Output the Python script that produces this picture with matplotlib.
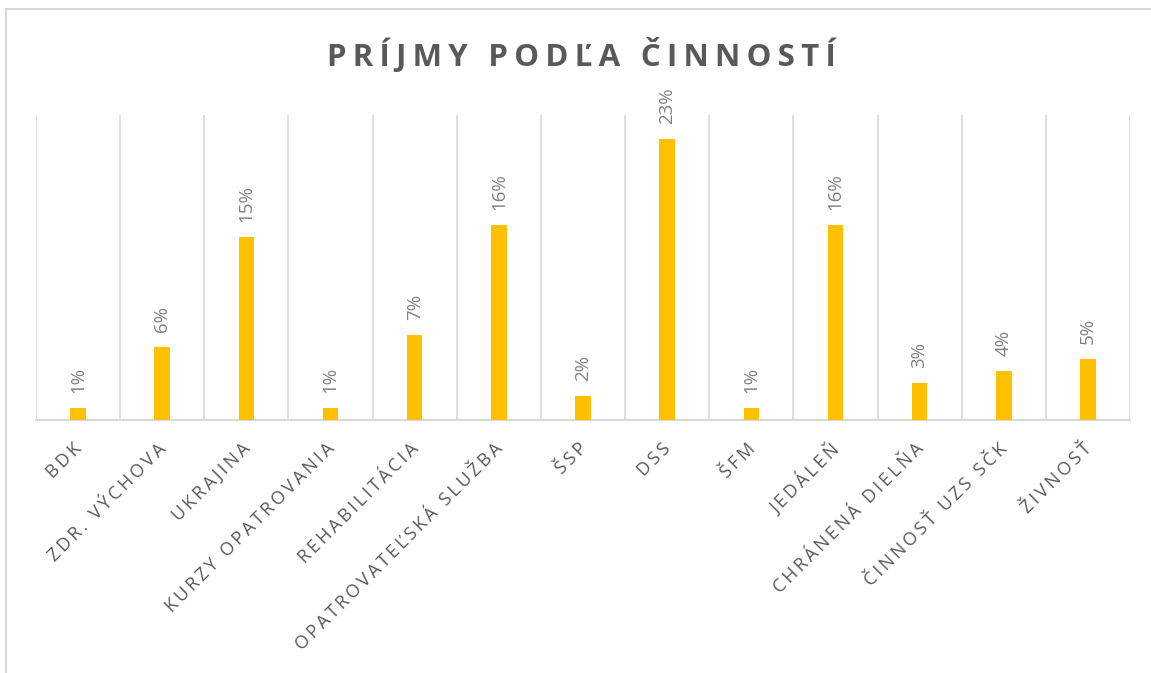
import matplotlib
matplotlib.use("Agg")
import matplotlib.pyplot as plt
import matplotlib.transforms as mtrans
from matplotlib.patches import Rectangle

categories = ["BDK", "ZDR. VÝCHOVA", "UKRAJINA", "KURZY OPATROVANIA", "REHABILITÁCIA",
              "OPATROVATEĽSKÁ SLUŽBA", "ŠSP", "DSS", "ŠFM", "JEDÁLEŇ",
              "CHRÁNENÁ DIELŇA", "ČINNOSŤ UZS SČK", "ŽIVNOSŤ"]
values = [1, 6, 15, 1, 7, 16, 2, 23, 1, 16, 3, 4, 5]
title = "PRÍJMY PODĽA ČINNOSTÍ"

fam = ["Open Sans", "DejaVu Sans"]
W, H = 1151, 673

def spaced(s, gap="\u2009"):
    # fake letter spacing like excel
    return gap.join(list(s))

fig = plt.figure(figsize=(W / 100, H / 100), dpi=100, facecolor="white")
# chart frame
fig.patches.append(Rectangle((6 / W, -0.1), 1.2, 1 - 9 / H + 0.1, transform=fig.transFigure,
                             fill=False, edgecolor="#d9d9d9", linewidth=1.5))

ax = fig.add_axes([36 / W, 1 - 420 / H, (1130 - 36) / W, (420 - 115) / H])
x = list(range(len(categories)))
ax.bar(x, values, width=0.185, color="#ffc000", zorder=3)
ax.set_xlim(-0.5, len(categories) - 0.5)
ax.set_ylim(0, 25)

for i in range(len(categories) + 1):
    ax.axvline(i - 0.5, color="#d9d9d9", linewidth=1.2, zorder=1)
for s in ["top", "left", "right"]:
    ax.spines[s].set_visible(False)
ax.spines["bottom"].set_color("#d9d9d9")
ax.spines["bottom"].set_linewidth(1.5)
ax.set_yticks([])
ax.set_xticks([])

off_lab = mtrans.ScaledTranslation(1 / 100, -26 / 100, fig.dpi_scale_trans)
for i, c in enumerate(categories):
    ax.text(i, 0, spaced(c), transform=ax.transData + off_lab, rotation=45,
            rotation_mode="anchor", ha="right", va="center", fontsize=13,
            color="#595959", family=fam)

off_val = mtrans.ScaledTranslation(0, 15 / 100, fig.dpi_scale_trans)
for i, v in enumerate(values):
    ax.text(i, v, "%d%%" % v, transform=ax.transData + off_val, rotation=90,
            ha="center", va="bottom", fontsize=13.5, color="#808080", family=fam)

fig.text(0.505, 1 - 55 / H, spaced(title), ha="center", va="center", fontsize=22.5,
         fontweight="bold", color="#595959", family=fam)

fig.savefig("out.png", dpi=100)
